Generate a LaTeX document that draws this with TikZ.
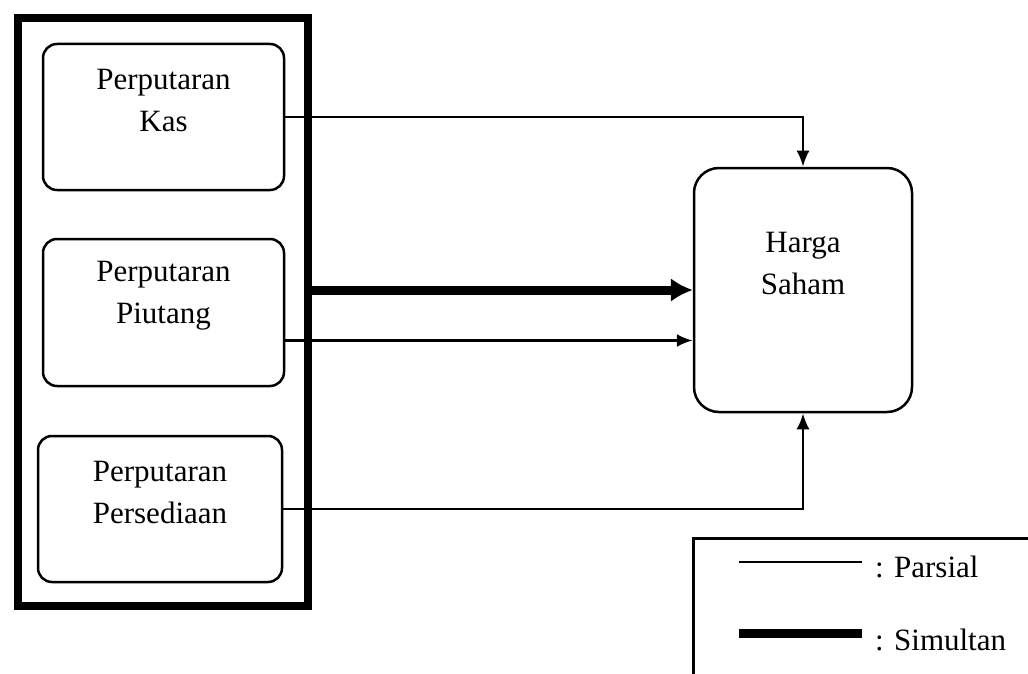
\documentclass[tikz,border=0pt]{standalone}
\usepackage{fontspec}
\setmainfont{Liberation Serif}
\usetikzlibrary{arrows.meta}
\begin{document}
\begin{tikzpicture}[x=1pt,y=-1pt,
  box/.style={draw, line width=2.5pt, rounded corners=14pt, inner sep=0pt},
  lbl/.style={align=center, inner sep=0pt, font=\fontsize{31}{42}\selectfont},
  partial/.style={line width=2.5pt, -{Latex[length=16pt,width=13pt]}},
  simul/.style={line width=9pt, -{Latex[length=22pt,width=24pt]}},
]
\useasboundingbox (0,0) rectangle (1028,674);
\node[draw, line width=8pt, minimum width=290.5pt, minimum height=588pt, inner sep=0pt] (group) at (162.75,312) {};
\node[box, minimum width=241pt, minimum height=146pt] (kas) at (163.5,117) {};
\node[box, minimum width=241pt, minimum height=147pt] (piutang) at (163.5,312.5) {};
\node[box, minimum width=244pt, minimum height=146pt] (persediaan) at (160,509) {};
\node[box, rounded corners=25pt, minimum width=218pt, minimum height=244pt] (harga) at (803,290) {};
\node[lbl] (kaslbl) at (163.5,101) {Perputaran\\Kas};
\node[lbl] (piulbl) at (163.5,296) {Perputaran\\Piutang};
\node[lbl] (perlbl) at (160,492) {Perputaran\\Persediaan};
\node[lbl] (hargalbl) at (803,264) {Harga\\Saham};
\draw[partial] (kas.east) -| (harga.north);
\draw[simul] (group.east |- harga.west) -- (harga.west);
\coordinate (p) at ([yshift=-28pt]piutang.east);
\draw[partial] (p) -- (p -| harga.west);
\draw[partial] (persediaan.east) -| (harga.south);
\node[draw, line width=2.5pt, anchor=north west, minimum width=360pt, minimum height=160pt, inner sep=0pt] (legend) at (692,537) {};
\coordinate (pa) at (739,562);
\coordinate (pb) at (862,562);
\draw[line width=2.5pt] (pa) -- (pb);
\node[lbl, anchor=west] (parsial) at (875,567) {: Parsial};
\coordinate (sa) at (739,633);
\coordinate (sb) at (862,633);
\draw[line width=9pt] (sa) -- (sb);
\node[lbl, anchor=west] (simultan) at (875,640) {: Simultan};
\end{tikzpicture}
\end{document}
